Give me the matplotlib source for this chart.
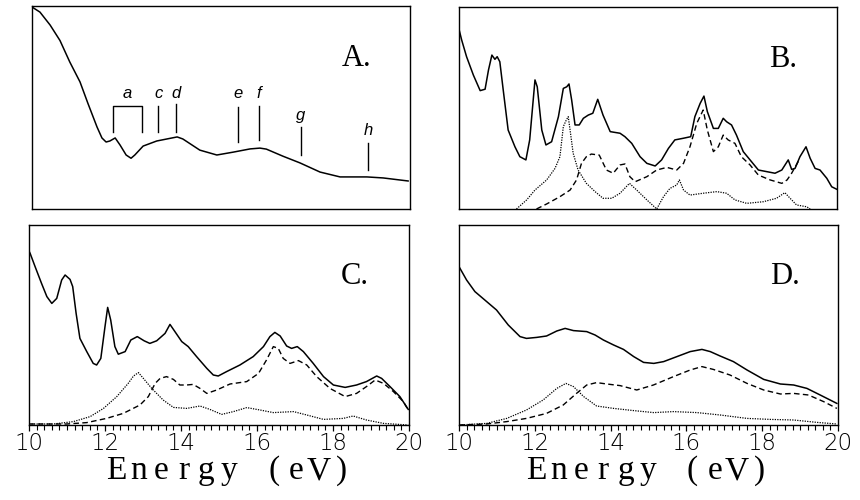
"""Four-panel energy spectra (A-D) with component curves."""

import matplotlib
matplotlib.use("Agg")
import matplotlib.pyplot as plt
from matplotlib.ticker import MultipleLocator

W_PX, H_PX = 860, 500

# ---- panel A: total spectrum (relative units) ----
a_x = [10.0, 10.21, 10.48, 10.74, 11.0, 11.27, 11.48, 11.72, 11.85, 11.96, 12.06, 12.2,
       12.33, 12.49, 12.62, 12.72, 12.94, 13.3, 13.57, 13.84, 13.99, 14.44, 14.89, 15.32,
       15.77, 16.03, 16.2, 16.64, 17.09, 17.62, 18.15, 18.5, 18.86, 19.29, 19.95]
a_y = [0.995, 0.97, 0.906, 0.83, 0.724, 0.626, 0.52, 0.404, 0.35, 0.33, 0.335, 0.35,
       0.315, 0.266, 0.25, 0.266, 0.31, 0.335, 0.345, 0.355, 0.345, 0.29, 0.266, 0.28,
       0.296, 0.30, 0.295, 0.26, 0.227, 0.182, 0.158, 0.158, 0.158, 0.153, 0.138]

# feature markers in A
bracket_a = [12.13, 12.92]
bracket_top, bracket_bottom = 0.507, 0.381
mark_labels = ["c", "d", "e", "f", "g", "h"]
mark_energy = [13.34, 13.81, 15.44, 16.01, 17.11, 18.9]
mark_top = [0.507, 0.515, 0.504, 0.507, 0.405, 0.327]
mark_bottom = [0.381, 0.379, 0.332, 0.34, 0.266, 0.192]
mark_text_y = [0.547, 0.547, 0.547, 0.547, 0.438, 0.365]

# ---- panel B ----
b_solid_x = [10.0, 10.07, 10.2, 10.38, 10.56, 10.69, 10.78, 10.87, 10.95, 11.01, 11.08,
             11.17, 11.3, 11.48, 11.61, 11.77, 11.87, 12.01, 12.07, 12.19, 12.3, 12.45,
             12.63, 12.76, 12.85, 12.91, 12.98, 13.07, 13.18, 13.29, 13.42, 13.54, 13.67,
             13.81, 14.0, 14.26, 14.39, 14.57, 14.79, 14.97, 15.19, 15.36, 15.54, 15.71,
             15.93, 16.13, 16.24, 16.38, 16.48, 16.57, 16.73, 16.86, 16.99, 17.08, 17.21,
             17.34, 17.52, 17.7, 17.92, 18.14, 18.36, 18.54, 18.71, 18.8, 18.89, 19.02,
             19.18, 19.29, 19.42, 19.55, 19.73, 19.86, 19.99]
b_solid_y = [0.89, 0.837, 0.754, 0.663, 0.586, 0.593, 0.688, 0.762, 0.741, 0.754, 0.729,
             0.589, 0.391, 0.308, 0.259, 0.243, 0.342, 0.639, 0.605, 0.391, 0.317, 0.333,
             0.457, 0.597, 0.605, 0.619, 0.54, 0.416, 0.416, 0.449, 0.465, 0.474, 0.543,
             0.465, 0.383, 0.375, 0.358, 0.325, 0.259, 0.226, 0.213, 0.243, 0.3, 0.342,
             0.35, 0.358, 0.457, 0.523, 0.559, 0.482, 0.399, 0.399, 0.449, 0.432, 0.416,
             0.366, 0.284, 0.243, 0.193, 0.185, 0.177, 0.193, 0.243, 0.196, 0.201, 0.259,
             0.308, 0.251, 0.201, 0.193, 0.152, 0.11, 0.098]
b_dash_x = [12.05, 12.32, 12.67, 12.94, 13.11, 13.24, 13.37, 13.5, 13.71, 13.9, 14.08,
            14.26, 14.39, 14.52, 14.66, 14.97, 15.23, 15.5, 15.76, 15.94, 16.11, 16.29,
            16.46, 16.57, 16.73, 16.86, 16.99, 17.12, 17.3, 17.47, 17.7, 17.92, 18.23,
            18.54, 18.68, 18.8, 19.02]
b_dash_y = [0.0, 0.025, 0.061, 0.094, 0.144, 0.226, 0.259, 0.272, 0.267, 0.193, 0.177,
            0.218, 0.223, 0.16, 0.135, 0.16, 0.193, 0.206, 0.193, 0.226, 0.308, 0.424,
            0.49, 0.391, 0.284, 0.308, 0.366, 0.342, 0.325, 0.259, 0.218, 0.168, 0.144,
            0.127, 0.144, 0.177, 0.25]
b_dot_x = [11.52, 11.79, 12.01, 12.32, 12.54, 12.67, 12.76, 12.83, 12.89, 12.95, 13.02,
           13.15, 13.37, 13.6, 13.81, 14.04, 14.26, 14.51, 14.7, 14.97, 15.23, 15.41,
           15.58, 15.76, 15.83, 15.94, 16.11, 16.46, 16.82, 17.08, 17.3, 17.61, 18.05,
           18.4, 18.62, 18.76, 18.93, 19.2, 19.29]
b_dot_y = [0.0, 0.045, 0.094, 0.144, 0.201, 0.259, 0.408, 0.437, 0.457, 0.375, 0.276,
           0.193, 0.127, 0.086, 0.053, 0.053, 0.078, 0.127, 0.094, 0.045, 0.0, 0.061,
           0.102, 0.119, 0.144, 0.094, 0.069, 0.078, 0.086, 0.078, 0.045, 0.028, 0.036,
           0.053, 0.081, 0.053, 0.02, 0.011, 0.0]

# ---- panel C ----
c_solid_x = [10.0, 10.03, 10.16, 10.33, 10.47, 10.6, 10.73, 10.86, 10.95, 11.08, 11.15,
             11.24, 11.34, 11.52, 11.69, 11.78, 11.89, 12.0, 12.07, 12.15, 12.26, 12.35,
             12.53, 12.68, 12.85, 13.03, 13.18, 13.36, 13.58, 13.71, 13.84, 14.02, 14.19,
             14.41, 14.68, 14.85, 14.98, 15.2, 15.55, 15.9, 16.17, 16.34, 16.47, 16.61,
             16.78, 16.91, 17.06, 17.22, 17.48, 17.75, 18.01, 18.32, 18.62, 18.88, 19.15,
             19.28, 19.5, 19.76, 19.98]
c_solid_y = [0.87, 0.858, 0.792, 0.708, 0.642, 0.608, 0.633, 0.725, 0.75, 0.728, 0.692,
             0.558, 0.433, 0.367, 0.308, 0.3, 0.333, 0.492, 0.588, 0.525, 0.392, 0.354,
             0.367, 0.425, 0.442, 0.421, 0.408, 0.421, 0.458, 0.503, 0.467, 0.417, 0.392,
             0.342, 0.283, 0.25, 0.245, 0.267, 0.3, 0.342, 0.392, 0.442, 0.463, 0.445,
             0.395, 0.383, 0.392, 0.367, 0.308, 0.242, 0.2, 0.188, 0.2, 0.217, 0.245,
             0.233, 0.192, 0.142, 0.078]
c_dash_x = [10.0, 10.99, 11.52, 12.04, 12.48, 12.92, 13.14, 13.32, 13.45, 13.62, 13.8,
            13.97, 14.15, 14.32, 14.5, 14.68, 14.94, 15.29, 15.73, 16.04, 16.25, 16.43,
            16.56, 16.69, 16.87, 17.09, 17.31, 17.57, 17.92, 18.32, 18.62, 18.88, 19.11,
            19.33, 19.59, 19.85, 19.98]
c_dash_y = [0.005, 0.005, 0.012, 0.033, 0.058, 0.1, 0.142, 0.208, 0.233, 0.242, 0.228,
            0.2, 0.2, 0.203, 0.183, 0.158, 0.175, 0.205, 0.217, 0.258, 0.325, 0.392,
            0.383, 0.333, 0.308, 0.322, 0.3, 0.242, 0.183, 0.142, 0.158, 0.192, 0.225,
            0.208, 0.167, 0.117, 0.075]
c_dot_x = [10.0, 10.64, 11.17, 11.61, 11.96, 12.31, 12.61, 12.75, 12.88, 13.01, 13.23,
           13.53, 13.8, 14.15, 14.5, 14.76, 15.07, 15.38, 15.73, 16.08, 16.43, 16.96,
           17.31, 17.75, 18.27, 18.53, 18.88, 19.33, 19.98]
c_dot_y = [0.005, 0.005, 0.017, 0.042, 0.083, 0.142, 0.208, 0.245, 0.262, 0.233, 0.183,
           0.125, 0.088, 0.083, 0.095, 0.078, 0.053, 0.067, 0.087, 0.075, 0.062, 0.067,
           0.05, 0.028, 0.033, 0.045, 0.025, 0.008, 0.0]

# ---- panel D ----
d_solid_x = [10.0, 10.2, 10.42, 10.73, 10.99, 11.3, 11.61, 11.78, 12.05, 12.31, 12.58,
             12.8, 13.02, 13.37, 13.59, 13.81, 14.08, 14.34, 14.61, 14.87, 15.14, 15.4,
             15.75, 16.1, 16.41, 16.63, 16.89, 17.24, 17.6, 18.04, 18.48, 18.83, 19.18,
             19.53, 19.97]
d_solid_y = [0.792, 0.725, 0.667, 0.617, 0.575, 0.5, 0.442, 0.433, 0.438, 0.445, 0.47,
             0.483, 0.472, 0.467, 0.45, 0.425, 0.4, 0.378, 0.342, 0.313, 0.308, 0.317,
             0.342, 0.367, 0.378, 0.367, 0.345, 0.317, 0.275, 0.228, 0.205, 0.2, 0.183,
             0.15, 0.108]
d_dash_x = [10.0, 10.73, 11.26, 11.78, 12.31, 12.75, 13.1, 13.37, 13.63, 13.9, 14.25,
            14.69, 15.13, 15.66, 16.1, 16.41, 16.71, 17.15, 17.6, 18.04, 18.48, 18.83,
            19.22, 19.62, 19.97]
d_dash_y = [0.0, 0.005, 0.017, 0.033, 0.058, 0.1, 0.158, 0.2, 0.212, 0.205, 0.197,
            0.175, 0.2, 0.242, 0.275, 0.292, 0.278, 0.25, 0.208, 0.175, 0.155, 0.158,
            0.15, 0.117, 0.083]
d_dot_x = [10.0, 10.73, 11.26, 11.78, 12.22, 12.58, 12.82, 13.02, 13.29, 13.63, 14.08,
           14.61, 15.14, 15.66, 16.28, 16.89, 17.6, 18.21, 18.83, 19.45, 19.97]
d_dot_y = [0.0, 0.008, 0.033, 0.075, 0.125, 0.183, 0.208, 0.192, 0.142, 0.095, 0.083,
           0.072, 0.062, 0.067, 0.062, 0.05, 0.033, 0.028, 0.025, 0.013, 0.005]

PANEL_LETTERS = ["A.", "B.", "C.", "D."]
TICK_VALUES = [10, 12, 14, 16, 18, 20]
XLABEL = "Energy (eV)"

DASHED = (0, (4.0, 2.4))
DOTTED = (0, (1.0, 1.0))


def _px_rect(left, top, right, bottom):
    return [left / W_PX, 1 - bottom / H_PX, (right - left) / W_PX, (bottom - top) / H_PX]


def _base_axes(fig, rect, letter, bottom_row):
    ax = fig.add_axes(rect)
    ax.set_xlim(10, 20)
    ax.set_ylim(0, 1)
    ax.set_yticks([])
    for sp in ax.spines.values():
        sp.set_linewidth(1.0)
    if bottom_row:
        ax.set_xticks(TICK_VALUES)
        ax.xaxis.set_minor_locator(MultipleLocator(0.2))
        ax.tick_params(axis="x", which="major", direction="out", length=4.2, width=0.9, pad=1.0)
        ax.tick_params(axis="x", which="minor", direction="out", length=3.4, width=0.8)
        for lab in ax.get_xticklabels():
            lab.set_fontfamily("DejaVu Sans")
            lab.set_fontweight(200)
            lab.set_fontsize(16.5)
    else:
        ax.set_xticks([])
    ax.text(0.82, 0.705, letter, transform=ax.transAxes, ha="left", va="baseline",
            family="Liberation Serif", fontsize=22)
    return ax


def _spaced_label(fig, text, center_px, baseline_px, advance_px):
    n = len(text)
    for i, ch in enumerate(text):
        x = center_px + (i - (n - 1) / 2) * advance_px
        fig.text(x / W_PX, 1 - baseline_px / H_PX, ch, ha="center", va="baseline",
                 family="Liberation Serif", fontsize=24)


def main():
    fig = plt.figure(figsize=(W_PX / 100, H_PX / 100), dpi=100)
    fig.patch.set_facecolor("white")

    ax_a = _base_axes(fig, _px_rect(32, 6, 410, 209), PANEL_LETTERS[0], False)
    ax_b = _base_axes(fig, _px_rect(459, 7, 837, 209), PANEL_LETTERS[1], False)
    ax_c = _base_axes(fig, _px_rect(29, 225, 409, 425), PANEL_LETTERS[2], True)
    ax_d = _base_axes(fig, _px_rect(459, 225, 838, 425), PANEL_LETTERS[3], True)

    # A: spectrum with feature markers
    ax_a.plot(a_x, a_y, color="black", lw=1.1)
    ax_a.plot([bracket_a[0], bracket_a[0], bracket_a[1], bracket_a[1]],
              [bracket_bottom, bracket_top, bracket_top, bracket_bottom], color="black", lw=1.0)
    ax_a.text(sum(bracket_a) / 2, 0.547, "a", ha="center", va="baseline",
              family="Liberation Sans", style="italic", fontsize=12)
    for lab, e, top, bot, ty in zip(mark_labels, mark_energy, mark_top, mark_bottom, mark_text_y):
        ax_a.plot([e, e], [bot, top], color="black", lw=1.0)
        ax_a.text(e, ty, lab, ha="center", va="baseline",
                  family="Liberation Sans", style="italic", fontsize=12)

    for ax, (sx, sy), (dx, dy), (px, py) in [
        (ax_b, (b_solid_x, b_solid_y), (b_dash_x, b_dash_y), (b_dot_x, b_dot_y)),
        (ax_c, (c_solid_x, c_solid_y), (c_dash_x, c_dash_y), (c_dot_x, c_dot_y)),
        (ax_d, (d_solid_x, d_solid_y), (d_dash_x, d_dash_y), (d_dot_x, d_dot_y)),
    ]:
        ax.plot(sx, sy, color="black", lw=1.1)
        ax.plot(dx, dy, color="black", lw=1.0, linestyle=DASHED)
        ax.plot(px, py, color="black", lw=0.9, linestyle=DOTTED)

    _spaced_label(fig, XLABEL, 228.7, 479, 22.5)
    _spaced_label(fig, XLABEL, 647.8, 479, 22.3)

    fig.savefig("out.png", dpi=100, facecolor="white")
    plt.close(fig)


if __name__ == "__main__":
    main()
